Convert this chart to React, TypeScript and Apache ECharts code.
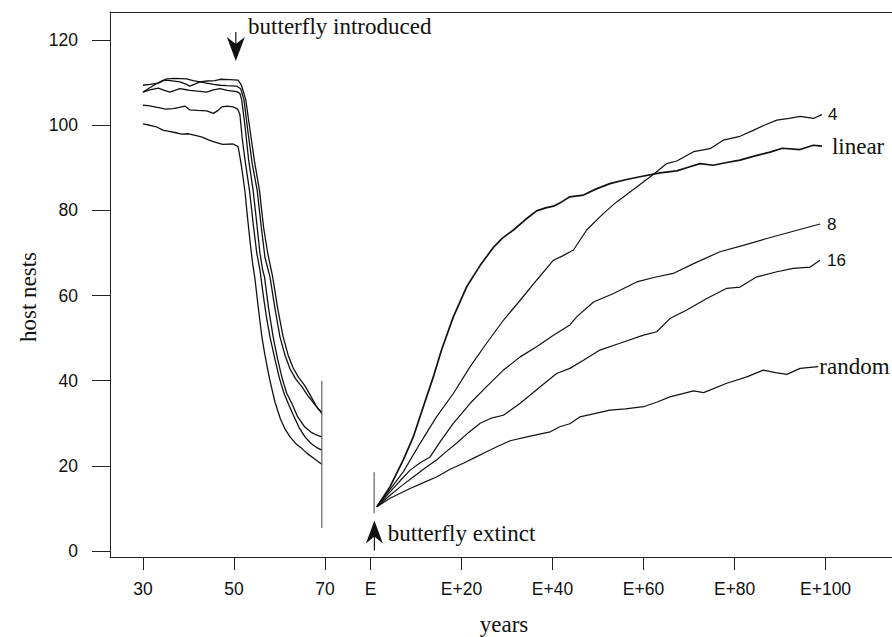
import { useEffect, useRef } from 'react';
import * as echarts from 'echarts';

const E = 80;
const xTickValues = [30, 50, 70, E, E + 20, E + 40, E + 60, E + 80, E + 100];
const xTickLabels = ['30', '50', '70', 'E', 'E+20', 'E+40', 'E+60', 'E+80', 'E+100'];
const yTickValues = [0, 20, 40, 60, 80, 100, 120];

// Before extinction (5 runs)
const pre1 = [[30,100.3],[31.5,100],[33,99.6],[34.5,98.8],[35.5,98.6],[37,98.3],[38.5,97.9],[40,98],[41.5,97.6],[43,97.2],[44.5,96.5],[46,96],[47.5,95.5],[49.8,95.6],[50.9,95],[51.4,92],[51.9,88.5],[52.4,84.5],[53.0,78],[53.6,72],[54.1,67.5],[54.6,64],[55.3,57.5],[56.1,50.5],[56.8,46],[57.8,40.5],[59.0,35],[60.2,31],[61.3,28.5],[62.3,26.8],[63.8,25],[65.0,24],[66.0,23],[67.5,21.8],[69.3,20.4]];
const pre2 = [[30,104.7],[31.2,104.6],[32.3,104.4],[33.7,104.1],[35,103.8],[36.7,103.9],[38,104.2],[39.2,104.5],[40.3,103.6],[42,103.5],[44,103.4],[45.5,102.8],[46.5,103.5],[47.3,104.3],[48.5,104.5],[49.8,104.3],[50.8,103.8],[51.3,102.5],[51.8,97],[52.4,92],[53.4,84.7],[54.2,77],[55.0,70],[55.7,66],[56.5,59.5],[57.2,54.5],[57.9,50.3],[59,45],[60,40.5],[61,37],[61.9,34.7],[63,32],[64.3,29],[65.6,26.8],[67,25.2],[68.2,24.3],[69.3,23.7]];
const pre3 = [[30,107.8],[31.5,108.3],[33.4,108.7],[34.7,108.2],[35.9,107.8],[37,108.2],[38.1,108.6],[39.2,108.4],[40.3,108.2],[42,108],[44,107.8],[45.5,108.3],[46.9,108.6],[48.5,108.2],[50.6,107.9],[51.3,107.5],[51.7,105.9],[52.4,100],[53.2,92],[54.2,84.7],[55,77],[55.7,70],[56.3,66],[56.7,64.4],[57.6,57],[58.6,50.3],[59.6,45],[60.6,40.5],[61.6,37],[62.7,34.7],[64,31.5],[65.5,29.2],[67.1,27.8],[68.2,27.2],[69.3,26.8]];
const pre4 = [[30,107.8],[31.5,108.8],[33,109.8],[34.5,110.6],[36,110.5],[38.1,110.2],[39.3,109.7],[40.3,109.2],[41.5,109.7],[42.5,110.2],[44,109.9],[45.5,109.6],[47,109.4],[48.5,109.3],[50.6,109.2],[51.5,108.5],[52.2,105.9],[53,99],[54,91],[55.1,84.7],[56,76],[56.8,69],[57.9,64.4],[59,57],[60.1,50.3],[61.2,46],[62.3,42.8],[63.5,40.5],[64.9,38.6],[66.2,36.5],[67.4,34.9],[68.4,33.5],[69.3,32.6]];
const pre5 = [[30,109.4],[31.5,109.6],[33.4,109.9],[35.2,110.9],[37,111],[39.6,110.9],[41,110.5],[42.5,110.2],[44,110.4],[45.8,110.5],[47,110.8],[49,110.7],[50.9,110.6],[51.6,109.5],[52.6,105.9],[53.5,99],[54.5,91.5],[55.6,84.7],[56.5,76],[57.4,70],[58.5,64.4],[59.6,57],[60.8,50.3],[61.9,46],[63,43],[64.2,40.8],[65.6,38.8],[66.8,36.5],[68.0,34.2],[69.3,32.3]];

// After extinction (recovery)
const linear = [[81.4,10.4],[84.3,15.1],[87.2,21.4],[89.4,26.8],[91.6,33.9],[93.8,40.9],[95.6,47.2],[98.2,55.0],[101.1,62.0],[104.1,67.1],[107.0,71.3],[109,73.5],[111.4,75.4],[114,77.8],[116.5,79.9],[118.5,80.6],[120.2,81.0],[122,82],[123.8,83.2],[126.8,83.6],[129.5,85],[132.6,86.3],[136,87.2],[139.2,87.9],[143.6,88.8],[147.3,89.3],[150,90.2],[152.4,91.0],[155.3,90.6],[158,91.2],[161.2,91.8],[164.5,92.8],[167.8,93.7],[170.5,94.6],[174.4,94.3],[177.3,95.3],[179.2,95.1]];
const four = [[81.4,10.4],[84.3,14.5],[87.2,18.6],[90.9,25.3],[94.5,31.5],[98.2,37.0],[101.9,43.3],[105.5,48.8],[109.2,54.2],[112.9,58.9],[116.5,63.6],[120.2,68.3],[122,69.2],[124.6,70.7],[127.5,75.4],[131.2,79.3],[134.1,82.0],[138.5,85.5],[142.2,88.5],[145.1,91.0],[147.3,91.6],[151.0,93.8],[154.6,94.5],[157.5,96.5],[161.2,97.4],[164.1,98.8],[166.5,100],[169.3,101.2],[172,101.6],[174.4,102.1],[177.3,101.6],[179.2,102.5]];
const eight = [[81.4,10.4],[84.3,13.9],[86.5,16.5],[88.7,19.0],[91,20.8],[93.1,22.1],[95.5,26],[98.2,30.0],[101.9,34.7],[105.5,38.6],[109.2,42.5],[112.9,45.6],[116.5,48.0],[120.2,50.7],[123.8,53.1],[125.3,55.0],[129.0,58.5],[133.4,60.5],[138.5,63.2],[142.5,64.3],[146.5,65.2],[151.0,67.5],[156.8,70.3],[161.9,71.8],[167.1,73.4],[172.9,75.1],[178.8,76.8]];
const sixteen = [[81.4,10.4],[84.3,13.1],[86.8,15.3],[89.4,17.4],[92,19.5],[94.5,21.4],[96.7,23.4],[98.9,25.3],[101.5,27.8],[104.1,30.0],[106.5,31.2],[109.2,31.9],[112.9,34.7],[117.3,38.6],[120.9,41.7],[123.8,42.9],[126.8,44.8],[130.4,47.2],[134.8,48.8],[140.0,50.7],[142.9,51.5],[145.8,54.6],[149.5,56.6],[153.9,59.3],[158.3,61.7],[161.2,62.0],[164.9,64.4],[169.3,65.6],[172.9,66.4],[176.6,66.7],[178.8,68.3]];
const random = [[81.4,10.4],[84.3,12.4],[88.7,14.7],[91.5,16],[94.5,17.4],[97.5,19.2],[100.4,20.6],[103,22],[105.5,23.3],[108,24.6],[110.7,25.9],[115.1,27.0],[119.5,28.0],[121.6,29.2],[123.8,29.9],[126.0,31.5],[129,32.2],[132.6,33.1],[136,33.4],[140.0,33.9],[143,35],[145.8,36.2],[151.0,37.6],[153.2,37.2],[158.3,39.4],[162.7,40.9],[166.3,42.5],[169,41.9],[171.5,41.5],[174.4,42.9],[178.4,43.3]];

// Range markers
const endMarker = [[69.3, 5.4], [69.3, 40]];
const startMarker = [[80.8, 8.9], [80.8, 18.5]];

const SERIF = '"Liberation Serif", "Times New Roman", serif';
const SANS = '"Liberation Sans", Arial, Helvetica, sans-serif';
const INK = '#111';
const X_MIN = 22.75;
const X_MAX = 194.6;

export default function App() {
  const ref = useRef<HTMLDivElement>(null);
  useEffect(() => {
    const chart = echarts.init(ref.current!, null, { renderer: 'svg' });
    const lineS = (name: string, data: number[][], width: number, label?: { fontFamily: string; fontSize: number; distance: number }) => ({
      type: 'line',
      name,
      data,
      showSymbol: false,
      symbol: 'none',
      smooth: false,
      silent: true,
      lineStyle: { color: INK, width },
      endLabel: label
        ? { show: true, formatter: name, color: INK, fontFamily: label.fontFamily, fontSize: label.fontSize, distance: label.distance }
        : { show: false },
      z: 3,
    });
    const option: any = {
      animation: false,
      backgroundColor: '#fff',
      grid: { left: 110, right: 0, top: 12, bottom: 80, show: false },
      xAxis: [
        {
          type: 'value',
          min: X_MIN,
          max: X_MAX,
          splitLine: { show: false },
          axisLine: { show: true, onZero: false, lineStyle: { color: '#222', width: 1 } },
          axisTick: { show: true, length: 13, lineStyle: { color: '#222' }, customValues: xTickValues },
          axisLabel: {
            customValues: xTickValues,
            formatter: (v: number) => {
              const i = xTickValues.indexOf(v);
              return i >= 0 ? xTickLabels[i] : '';
            },
            margin: 23,
            color: INK,
            fontFamily: SANS,
            fontSize: 17.5,
          },
        },
        {
          type: 'value',
          position: 'top',
          min: X_MIN,
          max: X_MAX,
          splitLine: { show: false },
          axisLine: { show: true, onZero: false, lineStyle: { color: '#222', width: 1 } },
          axisTick: { show: false },
          axisLabel: { show: false },
        },
      ],
      yAxis: {
        type: 'value',
        min: -1.4,
        max: 126.6,
        splitLine: { show: false },
        axisLine: { show: true, onZero: false, lineStyle: { color: '#222', width: 1 } },
        axisTick: { show: true, length: 18, lineStyle: { color: '#222' }, customValues: yTickValues },
        axisLabel: { customValues: yTickValues, margin: 32, color: INK, fontFamily: SANS, fontSize: 17.5 },
      },
      series: [
        lineS('pre1', pre1, 1.3),
        lineS('pre2', pre2, 1.3),
        lineS('pre3', pre3, 1.3),
        lineS('pre4', pre4, 1.3),
        lineS('pre5', pre5, 1.3),
        lineS('4', four, 1.2, { fontFamily: SANS, fontSize: 17, distance: 6 }),
        lineS('linear', linear, 1.7, { fontFamily: SERIF, fontSize: 23, distance: 10 }),
        lineS('8', eight, 1.2, { fontFamily: SANS, fontSize: 17, distance: 7 }),
        lineS('16', sixteen, 1.2, { fontFamily: SANS, fontSize: 17, distance: 7 }),
        lineS('random', random, 1.2, { fontFamily: SERIF, fontSize: 23, distance: 1 }),
        { type: 'line', data: endMarker, showSymbol: false, symbol: 'none', silent: true, lineStyle: { color: '#555', width: 1.1 } },
        { type: 'line', data: startMarker, showSymbol: false, symbol: 'none', silent: true, lineStyle: { color: '#555', width: 1.1 } },
      ],
    };
    chart.setOption(option);

    const px = (x: number, y: number) => chart.convertToPixel({ xAxisIndex: 0, yAxisIndex: 0 }, [x, y]) as number[];
    const topTip = px(50.4, 115.1);
    const topStem = px(50.4, 121.9);
    const botTip = px(80.85, 7.2);
    const botStem = px(80.85, 0.1);
    const introPos = px(53.1, 123.1);
    const extinctPos = px(83.8, 4.2);

    const graphic: any[] = [
      { type: 'line', shape: { x1: topStem[0], y1: topStem[1], x2: topTip[0], y2: topTip[1] - 10 }, style: { stroke: INK, lineWidth: 1.2 } },
      {
        type: 'polygon',
        shape: { points: [[topTip[0] - 9, topTip[1] - 24], [topTip[0], topTip[1] - 17], [topTip[0] + 9, topTip[1] - 24], [topTip[0], topTip[1]]] },
        style: { fill: INK },
      },
      { type: 'line', shape: { x1: botStem[0], y1: botStem[1], x2: botTip[0], y2: botTip[1] + 10 }, style: { stroke: INK, lineWidth: 1.2 } },
      {
        type: 'polygon',
        shape: { points: [[botTip[0] - 8.5, botTip[1] + 23], [botTip[0], botTip[1] + 16], [botTip[0] + 8.5, botTip[1] + 23], [botTip[0], botTip[1]]] },
        style: { fill: INK },
      },
      { type: 'text', x: introPos[0], y: introPos[1], style: { text: 'butterfly introduced', font: `23px ${SERIF}`, fill: INK, align: 'left', verticalAlign: 'middle' } },
      { type: 'text', x: extinctPos[0], y: extinctPos[1], style: { text: 'butterfly extinct', font: `23px ${SERIF}`, fill: INK, align: 'left', verticalAlign: 'middle' } },
      { type: 'text', x: 504, y: 624, style: { text: 'years', font: `23px ${SERIF}`, fill: INK, align: 'center', verticalAlign: 'middle' } },
      { type: 'text', x: 28, y: 297, rotation: Math.PI / 2, style: { text: 'host nests', font: `23px ${SERIF}`, fill: INK, align: 'center', verticalAlign: 'middle' } },
    ];
    chart.setOption({ graphic });
    return () => chart.dispose();
  }, []);
  return <div ref={ref} style={{ position: 'fixed', left: 0, top: 0, width: 892, height: 637, background: '#fff' }} />;
}
